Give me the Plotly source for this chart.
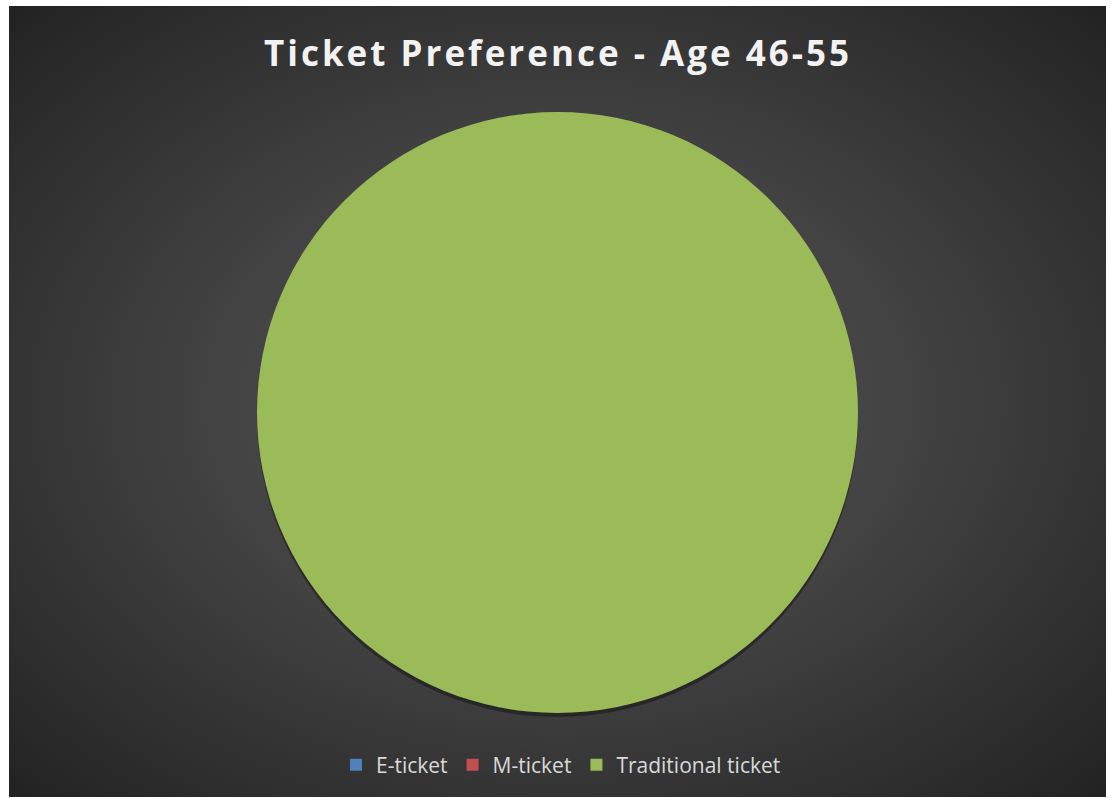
import base64
import plotly.graph_objects as go

# Survey answers for the 46-55 age group
categories = ["E-ticket", "M-ticket", "Traditional ticket"]
responses = [0, 0, 100]
slice_colors = ["#4f81bd", "#c0504d", "#9bbb59"]

W, H = 1111, 798

# Dark radial-gradient chart background (as an SVG image)
bg_svg = """<svg xmlns='http://www.w3.org/2000/svg' width='1097' height='791' viewBox='0 0 1097 791'>
<defs><radialGradient id='g' cx='50%' cy='50%' r='70%'>
<stop offset='0' stop-color='#505050'/>
<stop offset='0.45' stop-color='#434343'/>
<stop offset='1' stop-color='#232323'/>
</radialGradient></defs>
<rect width='1097' height='791' fill='url(#g)'/>
</svg>"""
bg_uri = "data:image/svg+xml;base64," + base64.b64encode(bg_svg.encode()).decode()

pie_x = [257 / W, 858 / W]
pie_y = [1 - 713 / H, 1 - 112 / H]
shadow_dy = 4 / H

fig = go.Figure()

# soft drop shadow under the pie
fig.add_trace(
    go.Pie(
        labels=categories,
        values=responses,
        marker=dict(colors=["rgba(0,0,0,0.35)"] * len(categories), line=dict(width=0)),
        textinfo="none",
        sort=False,
        hoverinfo="skip",
        showlegend=False,
        domain=dict(x=pie_x, y=[pie_y[0] - shadow_dy, pie_y[1] - shadow_dy]),
    )
)

fig.add_trace(
    go.Pie(
        labels=categories,
        values=responses,
        marker=dict(colors=slice_colors, line=dict(width=0)),
        textinfo="none",
        sort=False,
        direction="clockwise",
        hoverinfo="label+value+percent",
        domain=dict(x=pie_x, y=pie_y),
    )
)

fig.update_layout(
    width=W,
    height=H,
    margin=dict(l=0, r=0, t=0, b=0),
    paper_bgcolor="white",
    plot_bgcolor="rgba(0,0,0,0)",
    images=[
        dict(
            source=bg_uri,
            xref="paper",
            yref="paper",
            x=9 / W,
            y=1 - 6 / H,
            sizex=1097 / W,
            sizey=791 / H,
            xanchor="left",
            yanchor="top",
            sizing="stretch",
            layer="below",
        )
    ],
    title=dict(
        text="<b>Ticket Preference - Age 46-55</b>",
        font=dict(family="Open Sans", size=35, color="#f2f2f2"),
        x=558 / W,
        xanchor="center",
        y=1 - 54 / H,
        yanchor="middle",
    ),
    legend=dict(
        orientation="h",
        x=561 / W,
        xanchor="center",
        y=1 - 765 / H,
        yanchor="middle",
        font=dict(family="Open Sans", size=21, color="#d9d9d9"),
        bgcolor="rgba(0,0,0,0)",
    ),
)

# widen the title's letter spacing
title_spacing_js = """
document.querySelectorAll('.gtitle').forEach(function (t) {
  t.style.letterSpacing = '3px';
});
"""

fig.write_html("out.html", post_script=title_spacing_js)
